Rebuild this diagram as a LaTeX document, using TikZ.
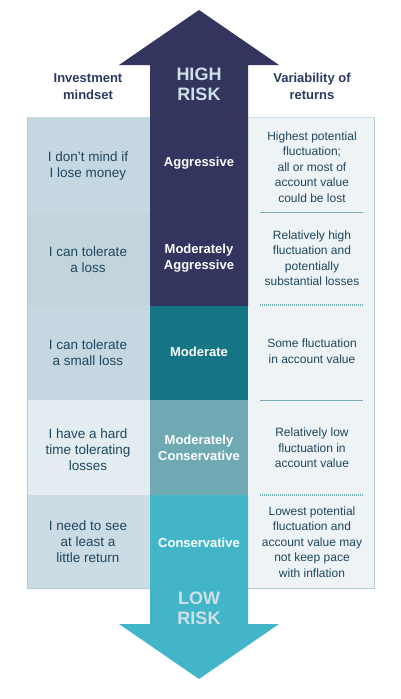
\documentclass[tikz,border=0pt]{standalone}
\usepackage{fontspec}
\setmainfont{Liberation Sans}
\begin{document}
\definecolor{navy}{HTML}{33355F}
\definecolor{moderate}{HTML}{167584}
\definecolor{modcons}{HTML}{6EA9B4}
\definecolor{cons}{HTML}{42B6C8}
\definecolor{leftA}{HTML}{C5D8E1}
\definecolor{leftB}{HTML}{C2D5DD}
\definecolor{leftD}{HTML}{E3ECF0}
\definecolor{leftE}{HTML}{CBDCE5}
\definecolor{rightfill}{HTML}{EEF4F5}
\definecolor{tableborder}{HTML}{B7CDD6}
\definecolor{sepline}{HTML}{72ADB8}
\definecolor{bodytext}{HTML}{1E4660}
\definecolor{headtext}{HTML}{2B3A62}
\definecolor{risktext}{HTML}{CFE0E8}
\begin{tikzpicture}[x=1pt,y=-1pt,
  cell/.style={text=bodytext,align=center,font=\fontsize{12}{15.5}\selectfont,inner sep=0pt},
  mind/.style={text=bodytext,align=center,font=\fontsize{13.5}{16}\selectfont,inner sep=0pt},
  level/.style={text=white,align=center,font=\fontsize{13}{16}\selectfont\bfseries,inner sep=0pt},
  header/.style={text=headtext,align=center,font=\fontsize{13}{17}\selectfont\bfseries,inner sep=0pt},
  risk/.style={text=risktext,align=center,font=\fontsize{18}{20}\selectfont\bfseries,inner sep=0pt},
  solidsep/.style={sepline,line width=1pt},
  dotsep/.style={sepline,line width=1.2pt,dash pattern=on 1pt off 1pt}]
\useasboundingbox (0,0) rectangle (400,699);
\fill[white] (0,0) rectangle (400,699);

% left column: investment mindset rows
\fill[leftA] (27,117) rectangle (150,213);
\fill[leftB] (27,213) rectangle (150,306);
\fill[leftA] (27,306) rectangle (150,400);
\fill[leftD] (27,400) rectangle (150,495);
\fill[leftE] (27,495) rectangle (150,588);
\draw[tableborder,line width=0.8pt] (27,117) -- (27,588) -- (150,588);

% right column: variability of returns
\fill[rightfill] (248,117) rectangle (374,588);
\draw[tableborder,line width=1pt] (248,588) -- (374,588) -- (374,117);
\draw[tableborder,line width=0.8pt,dash pattern=on 1pt off 1pt] (248,117) -- (374,117);

% separators between rows on the right
\coordinate (s1a) at (260,212); \coordinate (s1b) at (363,212);
\coordinate (s2a) at (260,305); \coordinate (s2b) at (363,305);
\coordinate (s3a) at (260,400); \coordinate (s3b) at (363,400);
\coordinate (s4a) at (260,495); \coordinate (s4b) at (363,495);
\draw[solidsep] (s1a) -- (s1b);
\draw[dotsep] (s2a) -- (s2b);
\draw[solidsep] (s3a) -- (s3b);
\draw[dotsep] (s4a) -- (s4b);

% central risk scale: up arrow, middle bands, down arrow
\fill[navy] (199,10) -- (279,65) -- (248,65) -- (248,306) -- (150,306) -- (150,65) -- (119,65) -- cycle;
\fill[moderate] (150,306) rectangle (248,400);
\fill[modcons] (150,400) rectangle (248,495);
\fill[cons] (150,495) -- (248,495) -- (248,624) -- (279,624) -- (199,679) -- (119,624) -- (150,624) -- cycle;

% headings
\node[header] (hmind) at (88,86.5) {Investment\\mindset};
\node[header] (hvar) at (312,86.5) {Variability of\\returns};
\node[risk] (high) at (199,84) {HIGH\\RISK};
\node[risk] (low) at (199,608) {LOW\\RISK};

% risk levels
\node[level] (l1) at (199,163) {Aggressive};
\node[level] (l2) at (199,258) {Moderately\\Aggressive};
\node[level] (l3) at (199,352) {Moderate};
\node[level] (l4) at (199,448) {Moderately\\Conservative};
\node[level] (l5) at (199,543) {Conservative};

% investment mindset
\node[mind] (m1) at (88,166) {I don't mind if\\I lose money};
\node[mind] (m2) at (88,260) {I can tolerate\\a loss};
\node[mind] (m3) at (88,353) {I can tolerate\\a small loss};
\node[mind] (m4) at (88,450) {I have a hard\\time tolerating\\losses};
\node[mind] (m5) at (88,542) {I need to see\\at least a\\little return};

% variability of returns
\node[cell] (v1) at (312,167) {Highest potential\\fluctuation;\\all or most of\\account value\\could be lost};
\node[cell] (v2) at (312,258) {Relatively high\\fluctuation and\\potentially\\substantial losses};
\node[cell] (v3) at (312,351) {Some fluctuation\\in account value};
\node[cell] (v4) at (312,448) {Relatively low\\fluctuation in\\account value};
\node[cell] (v5) at (312,542) {Lowest potential\\fluctuation and\\account value may\\not keep pace\\with inflation};
\end{tikzpicture}
\end{document}
